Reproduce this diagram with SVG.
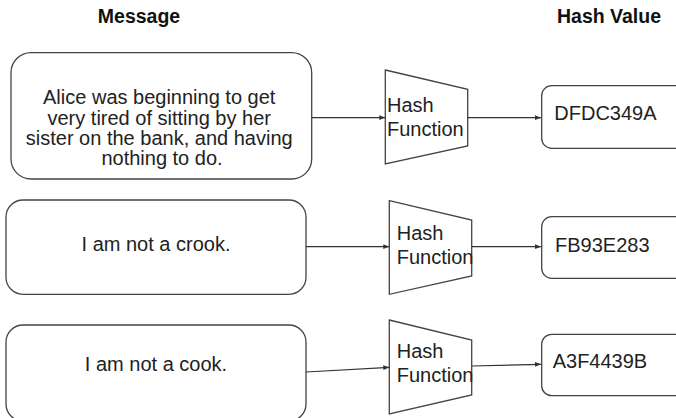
<svg xmlns="http://www.w3.org/2000/svg" width="676" height="418" viewBox="0 0 676 418">
  <defs>
    <marker id="arrow" viewBox="0 0 10 10" refX="10" refY="5" markerWidth="6" markerHeight="6" markerUnits="userSpaceOnUse" orient="auto">
      <path d="M0,1 L10,5 L0,9 z" fill="#333"/>
    </marker>
    <style>
      .box { fill: #fff; stroke: #444; stroke-width: 1.3; }
      .txt { font-family: "Liberation Sans", Arial, sans-serif; font-size: 20px; fill: #222; }
      .head { font-family: "Liberation Sans", Arial, sans-serif; font-size: 19.5px; font-weight: bold; fill: #111; text-anchor: middle; }
      .mid { text-anchor: middle; }
      .conn { fill: none; stroke: #333; stroke-width: 1.2; marker-end: url(#arrow); }
    </style>
  </defs>

  <!-- column headings -->
  <text class="head" x="139" y="22.5">Message</text>
  <text class="head" x="609" y="22.5">Hash Value</text>

  <!-- messages -->
  <g id="msg1">
    <rect class="box" x="11" y="52.7" width="300.7" height="126.3" rx="20"/>
    <text class="txt mid" x="162">
      <tspan x="162" y="104.3">Alice was beginning to get</tspan>
      <tspan x="162" y="124.6">very tired of sitting by her</tspan>
      <tspan x="162" y="144.9">sister on the bank, and having</tspan>
      <tspan x="162" y="165.2">nothing to do.</tspan>
    </text>
  </g>
  <g id="msg2">
    <rect class="box" x="6" y="200" width="300" height="94.3" rx="17"/>
    <text class="txt mid" x="156" y="251">I am not a crook.</text>
  </g>
  <g id="msg3">
    <rect class="box" x="6" y="325" width="300" height="96" rx="17"/>
    <text class="txt mid" x="156" y="371">I am not a cook.</text>
  </g>

  <!-- hash functions -->
  <g id="hash1">
    <polygon class="box" points="385.3,70 467.7,89.3 467.7,146 385.3,164"/>
    <text class="txt" x="387" y="111.7">Hash</text>
    <text class="txt" x="387" y="135.7">Function</text>
  </g>
  <g id="hash2">
    <polygon class="box" points="389.3,200.7 471.7,220 471.7,276 389.3,294.3"/>
    <text class="txt" x="396.7" y="240">Hash</text>
    <text class="txt" x="396.7" y="264">Function</text>
  </g>
  <g id="hash3">
    <polygon class="box" points="389.3,320 471.7,340 471.7,395 389.3,414"/>
    <text class="txt" x="396.7" y="358.3">Hash</text>
    <text class="txt" x="396.7" y="381.7">Function</text>
  </g>

  <!-- hash values -->
  <g id="value1">
    <rect class="box" x="541.7" y="85.7" width="150" height="62.6" rx="10"/>
    <text class="txt" x="554.3" y="120">DFDC349A</text>
  </g>
  <g id="value2">
    <rect class="box" x="541.7" y="216.7" width="150" height="61.6" rx="10"/>
    <text class="txt" x="555" y="251.7">FB93E283</text>
  </g>
  <g id="value3">
    <rect class="box" x="541.7" y="334.3" width="150" height="61.4" rx="10"/>
    <text class="txt" x="552.7" y="368.3">A3F4439B</text>
  </g>

  <!-- connectors -->
  <g id="connectors">
    <line class="conn" x1="311.7" y1="117.7" x2="385.3" y2="117.7"/>
    <line class="conn" x1="306" y1="246.7" x2="389.3" y2="246.7"/>
    <line class="conn" x1="306" y1="372" x2="389.3" y2="367.3"/>
    <line class="conn" x1="467.7" y1="117.7" x2="541" y2="117.7"/>
    <line class="conn" x1="471.7" y1="246.7" x2="541" y2="246.7"/>
    <line class="conn" x1="471.7" y1="366" x2="541" y2="364.3"/>
  </g>
</svg>
